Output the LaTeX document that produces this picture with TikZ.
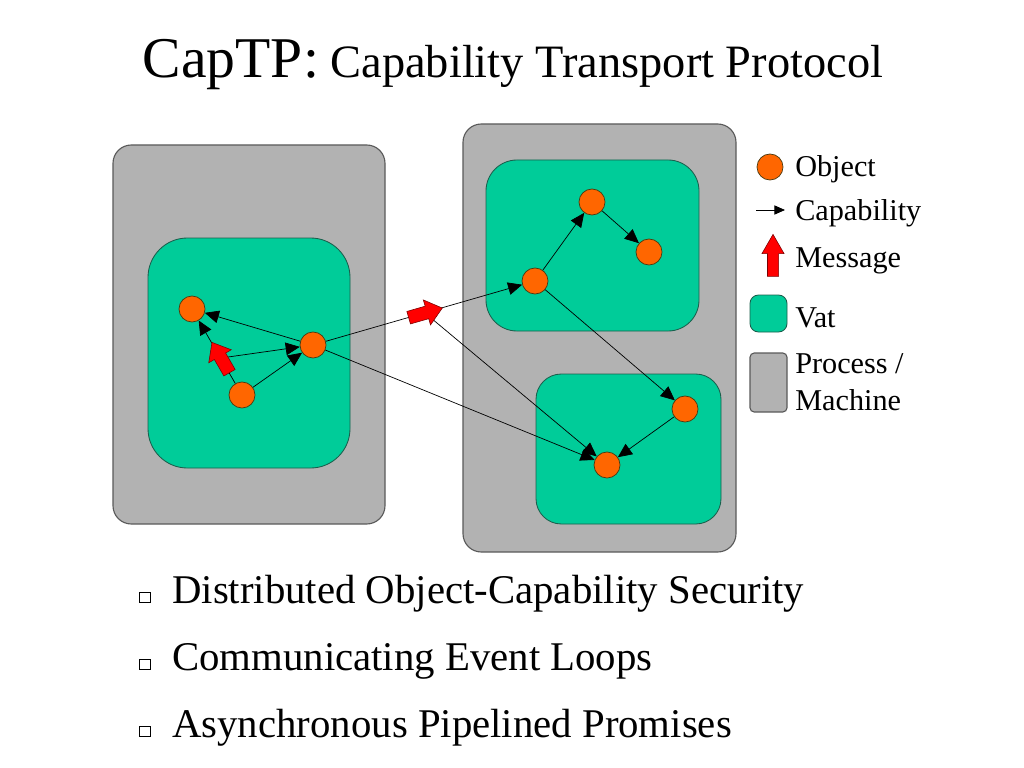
\documentclass[tikz,border=0pt]{standalone}
\usepackage{fontspec}
\setmainfont{Liberation Serif}
\usetikzlibrary{arrows.meta}

\definecolor{procgray}{HTML}{B2B2B2}
\definecolor{procline}{HTML}{5A5A5A}
\definecolor{vatgreen}{HTML}{00CC99}
\definecolor{vatline}{HTML}{1B5E4C}
\definecolor{objorange}{HTML}{FF6600}
\definecolor{objline}{HTML}{4A3A10}
\definecolor{msgred}{HTML}{FF0000}
\definecolor{msgline}{HTML}{7A0000}

\tikzset{
  process/.style={draw=procline, fill=procgray, line width=0.8pt, rounded corners=#1},
  process/.default=13pt,
  vat/.style={draw=vatline, fill=vatgreen, line width=0.6pt, rounded corners=#1},
  vat/.default=25pt,
  object/.style={circle, draw=objline, fill=objorange, line width=0.5pt,
    minimum size=18.5pt, inner sep=0pt},
  capline/.style={-{Triangle[length=10pt,width=9pt]}, line width=0.5pt},
  legcap/.style={-{Triangle[length=7.5pt,width=6.5pt]}, line width=0.6pt},
  msgarrow/.style={draw=msgline, fill=msgred, line width=0.4pt},
  message/.pic={
    \path[msgarrow] (-17,-6.5) -- (2,-6.5) -- (2,-13) -- (18,0)
      -- (2,13) -- (2,6.5) -- (-17,6.5) -- cycle;
  },
  legend/.style={anchor=base west, inner sep=0pt, font=\fontsize{21.5}{24}\selectfont},
  bulletbox/.style={draw, line width=0.4pt, minimum size=7.5pt, inner sep=0pt},
  bullettext/.style={anchor=base west, inner sep=0pt, font=\fontsize{29}{34}\selectfont},
}

\begin{document}
\begin{tikzpicture}[x=0.025cm, y=-0.025cm]
\useasboundingbox[fill=white] (0,0) rectangle (1024,768);

% title
\node[anchor=base, inner sep=0pt] (title) at (513,78)
  {{\fontsize{41}{48}\selectfont CapTP:}{\fontsize{33}{40}\selectfont{} Capability Transport Protocol}};

% machines
\path[process] (113,145) rectangle (385,524);
\path[process] (463,124) rectangle (736,552);

% vats
\path[vat=28pt] (148,238) rectangle (350,468);
\path[vat=22pt] (486,160) rectangle (699,331);
\path[vat=18pt] (536,374) rectangle (721,524);

% objects
\node[object] (A) at (192,309) {};
\node[object] (B) at (313,345) {};
\node[object] (C) at (242,395) {};
\node[object] (D) at (535,281) {};
\node[object] (E) at (592,202) {};
\node[object] (F) at (649,252) {};
\node[object] (G) at (685,409) {};
\node[object] (H) at (607,465) {};

\coordinate (msgL) at (221,358);
\coordinate (msgR) at (425,313);

% capabilities
\draw[capline] (B) -- (A);
\draw[capline] (C) -- (A);
\draw[capline] (msgL) -- (B);
\draw[capline] (C) -- (B);
\draw[capline] (B) -- (D);
\draw[capline] (msgR) -- (H);
\draw[capline] (B) -- (H);
\draw[capline] (D) -- (E);
\draw[capline] (E) -- (F);
\draw[capline] (D) -- (G);
\draw[capline] (G) -- (H);

% messages
\pic[rotate=120] at (msgL) {message};
\pic[rotate=16] at (msgR) {message};

% legend
\node[object] (legobj) at (770,167) {};
\node[legend] (legobjtxt) at (795,177) {Object};
\coordinate (legcapA) at (756,210);
\coordinate (legcapB) at (785,210);
\draw[legcap] (legcapA) -- (legcapB);
\node[legend] (legcaptxt) at (795,220) {Capability};
\pic[rotate=90, xscale=1.2, yscale=0.85] at (773,256) {message};
\node[legend] (legmsgtxt) at (795,267) {Message};
\path[vat=6pt] (750,295) rectangle (787,332);
\node[legend] (legvattxt) at (795,327) {Vat};
\path[process=3pt] (750,353) rectangle (787,412);
\node[legend] (legproctxt) at (795,373) {Process /};
\node[legend] (legproctxtb) at (795,410) {Machine};

% bullets
\foreach \y/\txt [count=\i] in {603/Distributed Object-Capability Security,
    670/Communicating Event Loops, 737/Asynchronous Pipelined Promises}{
  \node[bulletbox, anchor=south] (box\i) at (145,\y) {};
  \node[bullettext] (item\i) at (172,\y) {\txt};
}
\end{tikzpicture}
\end{document}
